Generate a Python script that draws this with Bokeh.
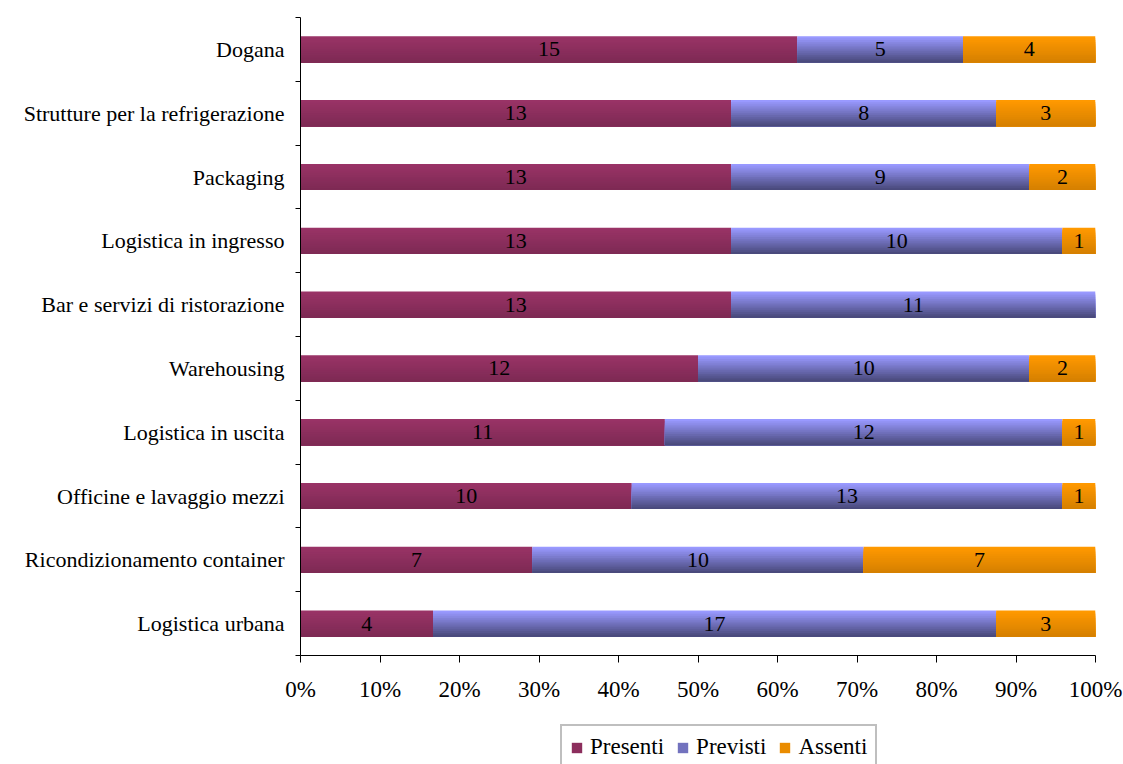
from bokeh.plotting import figure
from bokeh.layouts import column
from bokeh.models import Range1d, FixedTicker, Legend, LegendItem, ColumnDataSource
from bokeh.core.properties import value
from bokeh.embed import file_html
from bokeh.resources import INLINE

# Servizi, dall'alto verso il basso
categories = [
    "Dogana",
    "Strutture per la refrigerazione",
    "Packaging",
    "Logistica in ingresso",
    "Bar e servizi di ristorazione",
    "Warehousing",
    "Logistica in uscita",
    "Officine e lavaggio mezzi",
    "Ricondizionamento container",
    "Logistica urbana",
]
presenti = [15, 13, 13, 13, 13, 12, 11, 10, 7, 4]
previsti = [5, 8, 9, 10, 11, 10, 12, 13, 10, 17]
assenti = [4, 3, 2, 1, 0, 2, 1, 1, 7, 3]
series_names = ["Presenti", "Previsti", "Assenti"]
pct_ticks = [0, 10, 20, 30, 40, 50, 60, 70, 80, 90, 100]

# gradient endpoints (top colour, bottom colour) per series
grad = {
    "Presenti": ((153, 51, 102), (126, 42, 84)),
    "Previsti": ((153, 153, 255), (74, 74, 124)),
    "Assenti": ((255, 153, 0), (214, 128, 0)),
}
FONT = "Liberation Serif"
FS = "22px"
BAR_H = 0.41
N_STRIPS = 14

n = len(categories)
ys = [n - 1 - i for i in range(n)]

p = figure(width=1123, height=720, output_backend="svg", toolbar_location=None,
           x_range=Range1d(0, 100), y_range=Range1d(-0.5, n - 0.5))
p.min_border_left = 300
p.min_border_right = 28
p.min_border_top = 17
p.min_border_bottom = 65
p.outline_line_color = None
p.xgrid.visible = False
p.ygrid.visible = False
p.background_fill_color = "white"
p.border_fill_color = "white"


def hexcol(c):
    return "#%02x%02x%02x" % tuple(int(round(v)) for v in c)


series = [presenti, previsti, assenti]
totals = [a + b + c for a, b, c in zip(presenti, previsti, assenti)]
lefts = [0.0] * n
label_x, label_y, label_t = [], [], []
for name, vals in zip(series_names, series):
    left = list(lefts)
    right = [l + v / t * 100 for l, v, t in zip(left, vals, totals)]
    top_c, bot_c = grad[name]
    # stacked strips, each reaching down to the bar bottom, to shade top to bottom
    for k in range(N_STRIPS):
        f = k / (N_STRIPS - 1)
        col = hexcol([a + (b - a) * f for a, b in zip(top_c, bot_c)])
        src = ColumnDataSource(dict(
            left=left, right=right,
            top=[y + BAR_H / 2 - BAR_H * k / N_STRIPS for y in ys],
            bottom=[y - BAR_H / 2 for y in ys],
        ))
        p.quad(left="left", right="right", top="top", bottom="bottom", source=src,
               fill_color=col, line_color=None)
    for l, r, y, v in zip(left, right, ys, vals):
        if v > 0:
            label_x.append((l + r) / 2)
            label_y.append(y)
            label_t.append(str(v))
    lefts = right

p.text(x=label_x, y=label_y, text=label_t, text_align="center", text_baseline="middle",
       text_font=value(FONT), text_font_size=FS, text_color="black")

# x axis
xa = p.xaxis[0]
xa.ticker = FixedTicker(ticks=pct_ticks)
xa.major_label_overrides = {t: f"{t}%" for t in pct_ticks}
xa.major_tick_out = 7
xa.major_tick_in = 0
xa.minor_tick_out = 0
xa.minor_tick_in = 0
xa.major_label_standoff = 14
xa.major_label_text_font = FONT
xa.major_label_text_font_size = "23px"
xa.major_label_text_color = "black"
xa.axis_line_color = "black"
xa.major_tick_line_color = "black"

# y axis: labels at bar centres, tick marks between categories
ya = p.yaxis[0]
ya.ticker = FixedTicker(ticks=ys, minor_ticks=[y + 0.5 for y in range(-1, n)])
ya.major_label_overrides = {y: c for y, c in zip(ys, categories)}
ya.major_tick_out = 0
ya.major_tick_in = 0
ya.minor_tick_out = 5
ya.minor_tick_in = 0
ya.minor_tick_line_color = "black"
ya.major_label_standoff = 11
ya.major_label_text_font = FONT
ya.major_label_text_font_size = FS
ya.major_label_text_color = "black"
ya.axis_line_color = "black"

# legend strip underneath the chart (its frame lines up with the chart frame)
lg = figure(width=1123, height=44, output_backend="svg", toolbar_location=None,
            x_range=Range1d(0, 1), y_range=Range1d(0, 1),
            x_axis_location=None, y_axis_location=None)
lg.min_border = 0
lg.outline_line_color = None
lg.xgrid.visible = False
lg.ygrid.visible = False
items = []
for name in series_names:
    top_c, bot_c = grad[name]
    mid = hexcol([(a + b) / 2 for a, b in zip(top_c, bot_c)])
    # swatch glyph kept outside the visible range; only its legend entry shows
    r = lg.quad(left=[5], right=[6], top=[5], bottom=[4], fill_color=mid, line_color=None)
    items.append(LegendItem(label=name, renderers=[r]))
legend = Legend(items=items, orientation="horizontal", location=(260, -6),
                label_text_font=FONT, label_text_font_size="23px", label_text_color="black",
                glyph_width=13, glyph_height=13, spacing=12, padding=8,
                label_standoff=7, border_line_color="#808080", border_line_width=2,
                background_fill_color="white", background_fill_alpha=1.0,
                margin=0)
lg.add_layout(legend, "center")

open("out.html", "w").write(file_html(column(p, lg, spacing=0), INLINE))
